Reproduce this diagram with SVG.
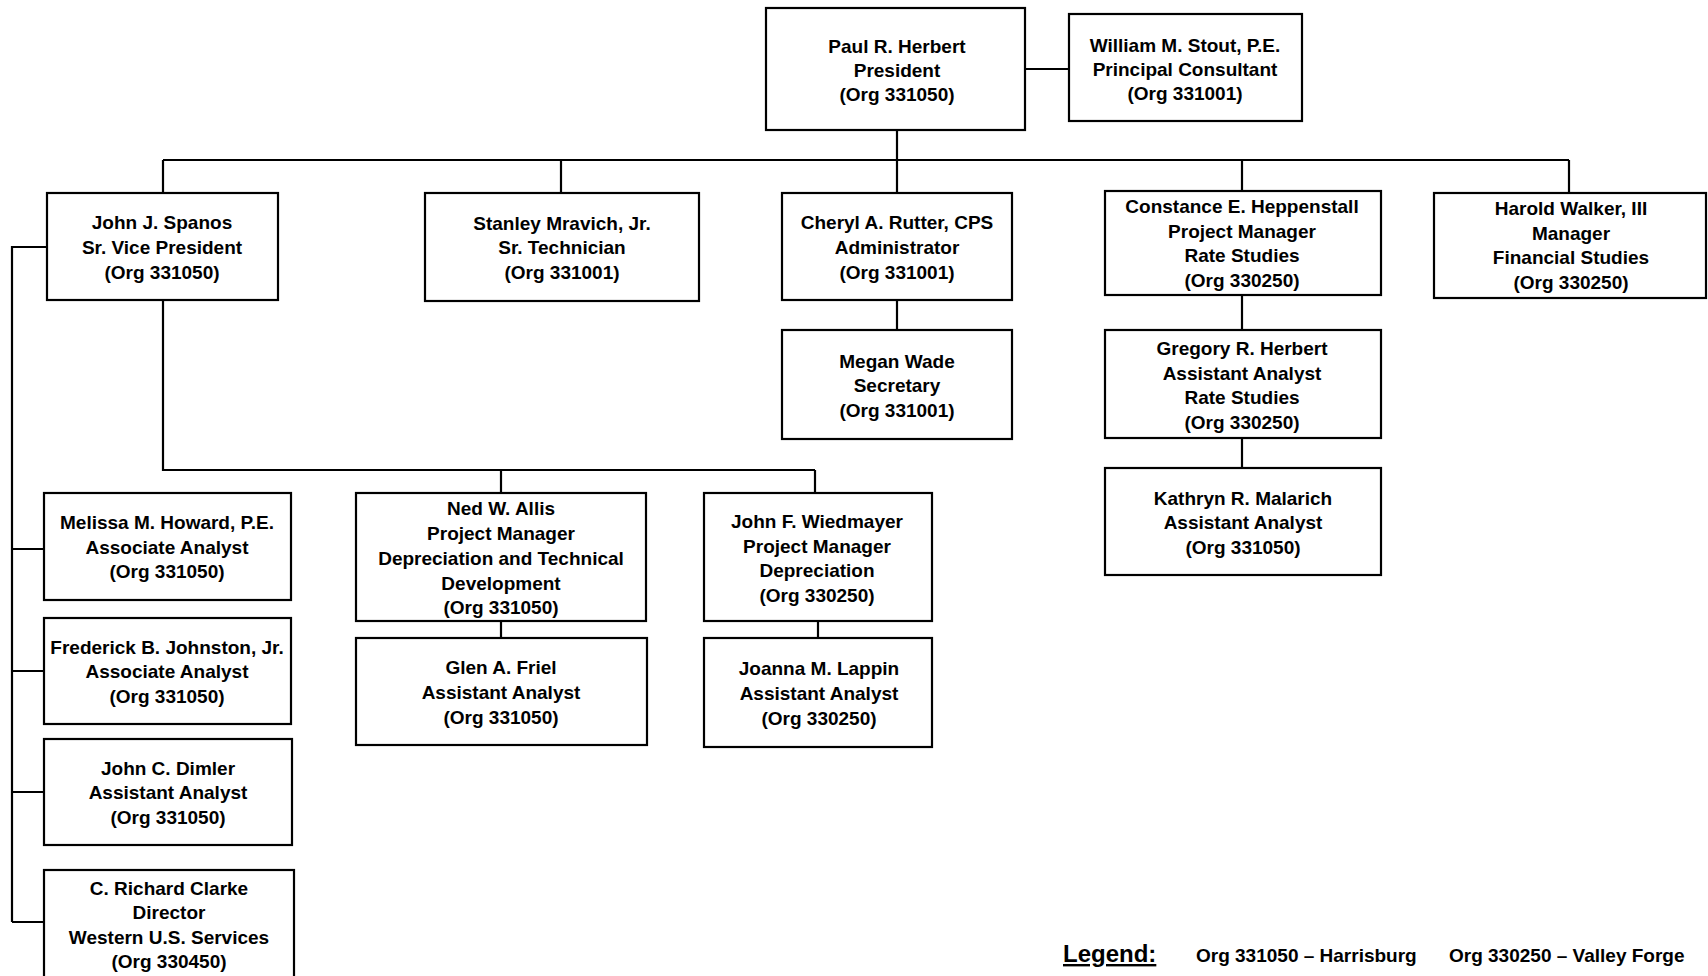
<svg xmlns="http://www.w3.org/2000/svg" width="1708" height="976" viewBox="0 0 1708 976">
<style>
.box{fill:#fff;stroke:#000;stroke-width:2.2}
.ln{fill:none;stroke:#000;stroke-width:2.2}
text{font-family:"Liberation Sans",Arial,sans-serif;font-weight:bold;font-size:19px;fill:#000;text-anchor:middle}
.lg{text-anchor:start}
</style>
<rect width="1708" height="976" fill="#fff"/>
<g id="connectors">
<path class="ln" d="M1025 69H1069"/>
<path class="ln" d="M897 130V160M163 160H1569M163 160V193M561 160V193M897 160V193M1242 160V191M1569 160V193"/>
<path class="ln" d="M897 300V330M1242 295V330M1242 438V468"/>
<path class="ln" d="M163 300V470H815M501 470V493M815 470V493M501 621V638M818 621V638"/>
<path class="ln" d="M47 247H12V922M12 549H44M12 671H44M12 792H44M12 922H44"/>
</g>
<g id="paul"><rect class="box" x="766" y="8" width="259" height="122"/><text x="897" y="53">Paul R. Herbert</text><text x="897" y="77">President</text><text x="897" y="101">(Org 331050)</text></g>
<g id="stout"><rect class="box" x="1069" y="14" width="233" height="107"/><text x="1185" y="52">William M. Stout, P.E.</text><text x="1185" y="76">Principal Consultant</text><text x="1185" y="100">(Org 331001)</text></g>
<g id="spanos"><rect class="box" x="47" y="193" width="231" height="107"/><text x="162" y="229">John J. Spanos</text><text x="162" y="254">Sr. Vice President</text><text x="162" y="279">(Org 331050)</text></g>
<g id="mravich"><rect class="box" x="425" y="193" width="274" height="108"/><text x="562" y="230">Stanley Mravich, Jr.</text><text x="562" y="254">Sr. Technician</text><text x="562" y="279">(Org 331001)</text></g>
<g id="rutter"><rect class="box" x="782" y="193" width="230" height="107"/><text x="897" y="229">Cheryl A. Rutter, CPS</text><text x="897" y="254">Administrator</text><text x="897" y="279">(Org 331001)</text></g>
<g id="heppenstall"><rect class="box" x="1105" y="191" width="276" height="104"/><text x="1242" y="213">Constance E. Heppenstall</text><text x="1242" y="238">Project Manager</text><text x="1242" y="262">Rate Studies</text><text x="1242" y="287">(Org 330250)</text></g>
<g id="walker"><rect class="box" x="1434" y="193" width="272" height="105"/><text x="1571" y="215">Harold Walker, III</text><text x="1571" y="240">Manager</text><text x="1571" y="264">Financial Studies</text><text x="1571" y="289">(Org 330250)</text></g>
<g id="wade"><rect class="box" x="782" y="330" width="230" height="109"/><text x="897" y="368">Megan Wade</text><text x="897" y="392">Secretary</text><text x="897" y="417">(Org 331001)</text></g>
<g id="gherbert"><rect class="box" x="1105" y="330" width="276" height="108"/><text x="1242" y="355">Gregory R. Herbert</text><text x="1242" y="380">Assistant Analyst</text><text x="1242" y="404">Rate Studies</text><text x="1242" y="429">(Org 330250)</text></g>
<g id="malarich"><rect class="box" x="1105" y="468" width="276" height="107"/><text x="1243" y="505">Kathryn R. Malarich</text><text x="1243" y="529">Assistant Analyst</text><text x="1243" y="554">(Org 331050)</text></g>
<g id="howard"><rect class="box" x="44" y="493" width="247" height="107"/><text x="167" y="529">Melissa M. Howard, P.E.</text><text x="167" y="554">Associate Analyst</text><text x="167" y="578">(Org 331050)</text></g>
<g id="johnston"><rect class="box" x="44" y="618" width="247" height="106"/><text x="167" y="654">Frederick B. Johnston, Jr.</text><text x="167" y="678">Associate Analyst</text><text x="167" y="703">(Org 331050)</text></g>
<g id="dimler"><rect class="box" x="44" y="739" width="248" height="106"/><text x="168" y="775">John C. Dimler</text><text x="168" y="799">Assistant Analyst</text><text x="168" y="824">(Org 331050)</text></g>
<g id="clarke"><rect class="box" x="44" y="870" width="250" height="120"/><text x="169" y="895">C. Richard Clarke</text><text x="169" y="919">Director</text><text x="169" y="944">Western U.S. Services</text><text x="169" y="968">(Org 330450)</text></g>
<g id="allis"><rect class="box" x="356" y="493" width="290" height="128"/><text x="501" y="515">Ned W. Allis</text><text x="501" y="540">Project Manager</text><text x="501" y="565">Depreciation and Technical</text><text x="501" y="590">Development</text><text x="501" y="614">(Org 331050)</text></g>
<g id="wiedmayer"><rect class="box" x="704" y="493" width="228" height="128"/><text x="817" y="528">John F. Wiedmayer</text><text x="817" y="553">Project Manager</text><text x="817" y="577">Depreciation</text><text x="817" y="602">(Org 330250)</text></g>
<g id="friel"><rect class="box" x="356" y="638" width="291" height="107"/><text x="501" y="674">Glen A. Friel</text><text x="501" y="699">Assistant Analyst</text><text x="501" y="724">(Org 331050)</text></g>
<g id="lappin"><rect class="box" x="704" y="638" width="228" height="109"/><text x="819" y="675">Joanna M. Lappin</text><text x="819" y="700">Assistant Analyst</text><text x="819" y="725">(Org 330250)</text></g>
<g id="legend">
<text class="lg" x="1063" y="962" style="font-size:24px;text-decoration:underline">Legend:</text>
<text class="lg" x="1196" y="962">Org 331050 – Harrisburg</text>
<text class="lg" x="1449" y="962">Org 330250 – Valley Forge</text>
</g>
</svg>
